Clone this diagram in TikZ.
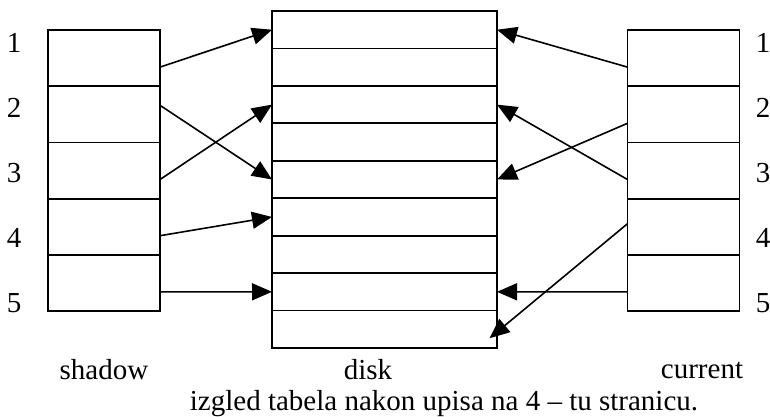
\documentclass[tikz,border=0pt]{standalone}
\usepackage{fontspec}
\setmainfont{Liberation Serif}
\usetikzlibrary{arrows.meta}
\begin{document}
\begin{tikzpicture}[x=1pt,y=-1pt,
  cell/.style={draw, line width=1.8pt, inner sep=0pt, outer sep=0pt, minimum width=112pt, minimum height=56.2pt},
  dcell/.style={draw, line width=1.8pt, inner sep=0pt, outer sep=0pt, minimum width=225pt, minimum height=37.44pt},
  lbl/.style={font=\fontsize{29}{34}\selectfont, inner sep=0pt},
  arr/.style={line width=1.6pt, -{Triangle[length=20pt,width=17pt]}}]
\useasboundingbox (0,0) rectangle (770,416);
% shadow and current columns
\foreach \i in {1,...,5} {
  \node[cell] (s\i) at (104, {30+56.2*(\i-0.5)}) {};
  \node[cell] (c\i) at (683.5, {30+56.2*(\i-0.5)}) {};
}
% disk column
\foreach \i in {1,...,9} {
  \node[dcell] (d\i) at (384.5, {11+37.44*(\i-0.5)}) {};
}
% numbers
\foreach \i/\y in {1/43,2/108,3/173,4/238,5/303} {
  \node[lbl] (l\i) at (14,\y) {\i};
  \node[lbl] (r\i) at (763,\y) {\i};
}
% left arrows
\draw[arr] ([yshift=-9pt]s1.east) -- (d1.west);
\draw[arr] ([yshift=9pt]s2.east) -- (d5.west);
\draw[arr] ([yshift=-9pt]s3.east) -- (d3.west);
\draw[arr] ([yshift=-9pt]s4.east) -- (d6.west);
\draw[arr] ([yshift=-9pt]s5.east) -- (d8.west);
% right arrows
\coordinate (d9in) at ([xshift=105pt,yshift=-9pt]d9.center);
\draw[arr] ([yshift=-9pt]c1.west) -- (d1.east);
\draw[arr] ([yshift=-9pt]c2.west) -- (d5.east);
\draw[arr] ([yshift=-9pt]c3.west) -- (d3.east);
\draw[arr] ([yshift=3pt]c4.west) -- (d9in);
\draw[arr] ([yshift=-9pt]c5.west) -- (d8.east);
% captions
\node[lbl] (tsh) at (104,370) {shadow};
\node[lbl] (tdi) at (368,370) {disk};
\node[lbl] (tcu) at (702,370) {current};
\node[lbl] (tcap) at (444,404) {izgled tabela nakon upisa na 4 – tu stranicu.};
\end{tikzpicture}
\end{document}
